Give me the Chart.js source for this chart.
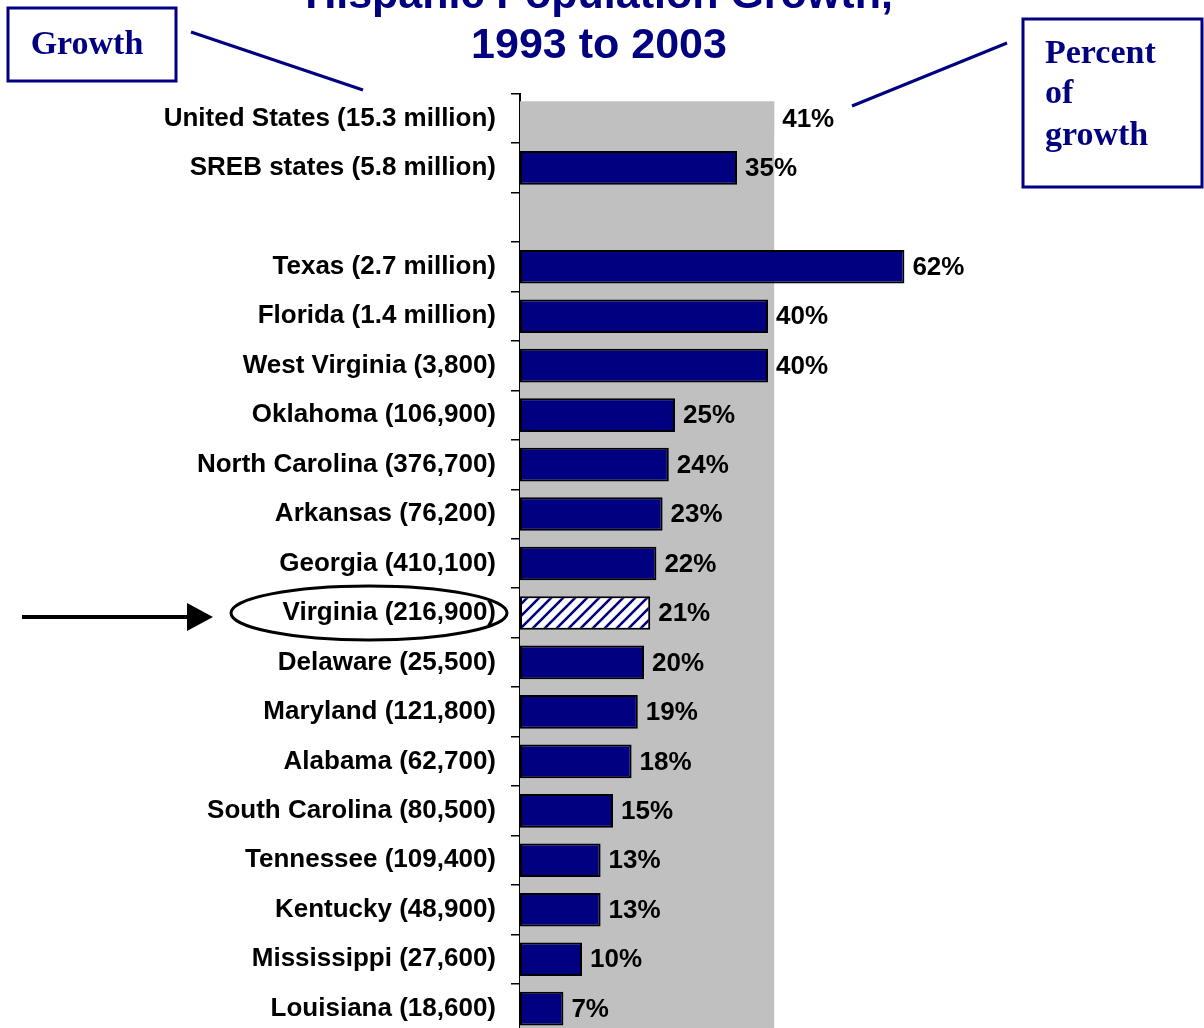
<!DOCTYPE html>
<html>
<head>
<meta charset="utf-8">
<script src="https://cdn.jsdelivr.net/npm/chart.js@4.4.1/dist/chart.umd.min.js"></script>
<style>
  html, body { margin: 0; padding: 0; background: #fff; overflow: hidden; }
  #wrap { position: absolute; left: 0; top: -39px; width: 1204px; height: 1103px; }
</style>
</head>
<body>
<div id="wrap"><canvas id="chartHispanic"></canvas></div>
<script>
// --- data ---
const categorias = [
  'United States (15.3 million)',
  'SREB states (5.8 million)',
  '',
  'Texas (2.7 million)',
  'Florida (1.4 million)',
  'West Virginia (3,800)',
  'Oklahoma (106,900)',
  'North Carolina (376,700)',
  'Arkansas (76,200)',
  'Georgia (410,100)',
  'Virginia (216,900)',
  'Delaware (25,500)',
  'Maryland (121,800)',
  'Alabama (62,700)',
  'South Carolina (80,500)',
  'Tennessee (109,400)',
  'Kentucky (48,900)',
  'Mississippi (27,600)',
  'Louisiana (18,600)'
];
const percentuais = [41, 35, null, 62, 40, 40, 25, 24, 23, 22, 21, 20, 19, 18, 15, 13, 13, 10, 7];
const tituloLinhas = ['Hispanic Population Growth,', '1993 to 2003'];
const idxEUA = 0;
const idxVirginia = 10;

const OFFSET = 39; // canvas sits 39px above the page top
const AZUL = '#000080';
const CINZA = '#c0c0c0';
const fonteSans = "'Liberation Sans', Arial, sans-serif";
const fonteSerif = "'Liberation Serif', 'Times New Roman', serif";

// hachura para Virginia
function criarHachura() {
  const s = 12;
  const c = document.createElement('canvas');
  c.width = s; c.height = s;
  const g = c.getContext('2d');
  g.fillStyle = '#fff';
  g.fillRect(0, 0, s, s);
  g.strokeStyle = AZUL;
  g.lineWidth = 2.6;
  g.beginPath();
  g.moveTo(-2, 2); g.lineTo(2, -2);
  g.moveTo(0, s); g.lineTo(s, 0);
  g.moveTo(s - 2, s + 2); g.lineTo(s + 2, s - 2);
  g.stroke();
  return g.createPattern(c, 'repeat');
}
const hachura = criarHachura();

const coresBarras = percentuais.map((v, i) => {
  if (i === idxEUA) return CINZA;
  if (i === idxVirginia) return hachura;
  return AZUL;
});
const bordas = percentuais.map((v, i) => i === idxEUA ? 0 : 2);

// faixa cinza do valor dos EUA
const faixaEUA = {
  id: 'faixaEUA',
  beforeDatasetsDraw(chart) {
    const { ctx, chartArea, scales } = chart;
    const bar = chart.getDatasetMeta(0).data[idxEUA];
    const x0 = scales.x.getPixelForValue(0);
    const x1 = scales.x.getPixelForValue(percentuais[idxEUA]);
    const y0 = bar.y - bar.height / 2;
    ctx.save();
    ctx.fillStyle = CINZA;
    ctx.fillRect(x0, y0, x1 - x0, chartArea.bottom - y0);
    ctx.restore();
  }
};

// rotulos de porcentagem
const rotulosValor = {
  id: 'rotulosValor',
  afterDatasetsDraw(chart) {
    const { ctx } = chart;
    ctx.save();
    ctx.font = `bold 26px ${fonteSans}`;
    ctx.fillStyle = '#000';
    ctx.textAlign = 'left';
    ctx.textBaseline = 'middle';
    chart.getDatasetMeta(0).data.forEach((bar, i) => {
      const v = percentuais[i];
      if (v === null) return;
      ctx.fillText(v + '%', bar.x + 8, bar.y + 1);
    });
    ctx.restore();
  }
};

// caixas, linhas, seta e elipse
const anotacoes = {
  id: 'anotacoes',
  afterDraw(chart) {
    const { ctx, scales } = chart;
    const yv = scales.y.getPixelForValue(idxVirginia);
    ctx.save();

    // caixa "Growth"
    ctx.strokeStyle = AZUL;
    ctx.lineWidth = 3;
    ctx.strokeRect(8, 8 + OFFSET, 168, 73);
    ctx.fillStyle = AZUL;
    ctx.font = `bold 34px ${fonteSerif}`;
    ctx.textAlign = 'center';
    ctx.textBaseline = 'alphabetic';
    ctx.fillText('Growth', 87, 54 + OFFSET);
    ctx.beginPath();
    ctx.moveTo(191, 32 + OFFSET);
    ctx.lineTo(363, 90 + OFFSET);
    ctx.stroke();

    // caixa "Percent of growth"
    ctx.strokeRect(1023, 19 + OFFSET, 179, 168);
    ctx.textAlign = 'left';
    ctx.fillText('Percent', 1045, 63 + OFFSET);
    ctx.fillText('of', 1045, 103 + OFFSET);
    ctx.fillText('growth', 1045, 145 + OFFSET);
    ctx.beginPath();
    ctx.moveTo(852, 106 + OFFSET);
    ctx.lineTo(1007, 43 + OFFSET);
    ctx.stroke();

    // seta
    ctx.strokeStyle = '#000';
    ctx.fillStyle = '#000';
    ctx.lineWidth = 4;
    ctx.beginPath();
    ctx.moveTo(22, yv + 4);
    ctx.lineTo(190, yv + 4);
    ctx.stroke();
    ctx.beginPath();
    ctx.moveTo(213, yv + 4);
    ctx.lineTo(187, yv - 10);
    ctx.lineTo(187, yv + 18);
    ctx.closePath();
    ctx.fill();

    // elipse em volta de Virginia
    ctx.lineWidth = 3;
    ctx.beginPath();
    ctx.ellipse(369, yv, 138, 27, 0, 0, Math.PI * 2);
    ctx.stroke();

    ctx.restore();
  }
};

const ctx = document.getElementById('chartHispanic');
new Chart(ctx, {
  type: 'bar',
  data: {
    labels: categorias,
    datasets: [{
      data: percentuais,
      backgroundColor: coresBarras,
      borderColor: '#000',
      borderWidth: bordas,
      borderSkipped: false,
      barPercentage: 0.68,
      categoryPercentage: 1
    }]
  },
  options: {
    indexAxis: 'y',
    responsive: true,
    maintainAspectRatio: false,
    animation: false,
    layout: { padding: { top: 0, right: 64, bottom: 8, left: 58 } },
    plugins: {
      legend: { display: false },
      tooltip: { enabled: false },
      title: {
        display: true,
        text: tituloLinhas,
        color: AZUL,
        font: { family: fonteSans, size: 43, weight: 'bold', lineHeight: 1.17 },
        padding: { top: 10, bottom: 22 }
      }
    },
    scales: {
      x: { display: false, min: 0, max: 100 },
      y: {
        afterFit(scale) { scale.width = 462; },
        grid: {
          display: true,
          drawOnChartArea: false,
          drawTicks: true,
          tickLength: 9,
          color: '#000',
          lineWidth: 1.5
        },
        border: { display: true, color: '#000', width: 2 },
        ticks: {
          color: '#000',
          padding: 15,
          autoSkip: false,
          font: { family: fonteSans, size: 26, weight: 'bold' }
        }
      }
    }
  },
  plugins: [faixaEUA, rotulosValor, anotacoes]
});
</script>
</body>
</html>
